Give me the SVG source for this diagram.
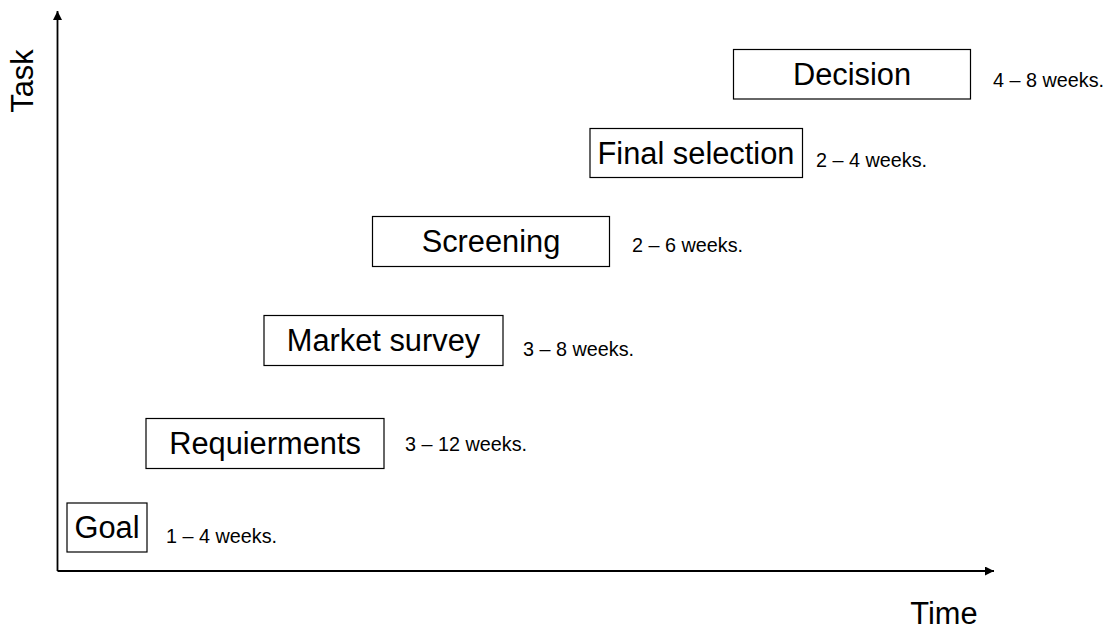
<svg xmlns="http://www.w3.org/2000/svg" width="1112" height="632" viewBox="0 0 1112 632">
<style>
.box{fill:#fff;stroke:#000;stroke-width:1.2}
.big{font-family:"Liberation Sans",Arial,sans-serif;font-size:30.8px;fill:#000;text-anchor:middle}
.small{font-family:"Liberation Sans",Arial,sans-serif;font-size:19.8px;fill:#000}
.axis{stroke:#000;stroke-width:1.8;fill:none}
</style>
<defs>
<marker id="arr" viewBox="0 0 10 10" refX="10" refY="5" markerWidth="10" markerHeight="9" markerUnits="userSpaceOnUse" orient="auto">
<path d="M0,0 L10,5 L0,10 Z" fill="#000"/>
</marker>
</defs>
<rect width="1112" height="632" fill="#fff"/>
<g id="connectors">
<path class="axis" d="M57.5,571 L57.5,11" marker-end="url(#arr)"/>
<path class="axis" d="M57.5,571 L994,571" marker-end="url(#arr)"/>
</g>
<g id="axis-labels">
<text class="big" transform="translate(33,81) rotate(-90)">Task</text>
<text class="big" x="944" y="624">Time</text>
</g>
<g id="decision">
<rect class="box" x="733.5" y="49.5" width="237" height="49.5"/>
<text class="big" x="852" y="85">Decision</text>
<text class="small" x="993" y="87">4 – 8 weeks.</text>
</g>
<g id="final-selection">
<rect class="box" x="590" y="128.5" width="212.5" height="49"/>
<text class="big" x="696" y="164">Final selection</text>
<text class="small" x="816" y="167">2 – 4 weeks.</text>
</g>
<g id="screening">
<rect class="box" x="372.5" y="216.5" width="237" height="50"/>
<text class="big" x="491" y="252">Screening</text>
<text class="small" x="632" y="252">2 – 6 weeks.</text>
</g>
<g id="market-survey">
<rect class="box" x="264" y="315.5" width="239" height="50"/>
<text class="big" x="383.5" y="351">Market survey</text>
<text class="small" x="523" y="356">3 – 8 weeks.</text>
</g>
<g id="requierments">
<rect class="box" x="146" y="418.5" width="238" height="50"/>
<text class="big" x="265" y="454">Requierments</text>
<text class="small" x="405" y="451">3 – 12 weeks.</text>
</g>
<g id="goal">
<rect class="box" x="67" y="503" width="80" height="49"/>
<text class="big" x="107" y="538">Goal</text>
<text class="small" x="166" y="543">1 – 4 weeks.</text>
</g>
</svg>
